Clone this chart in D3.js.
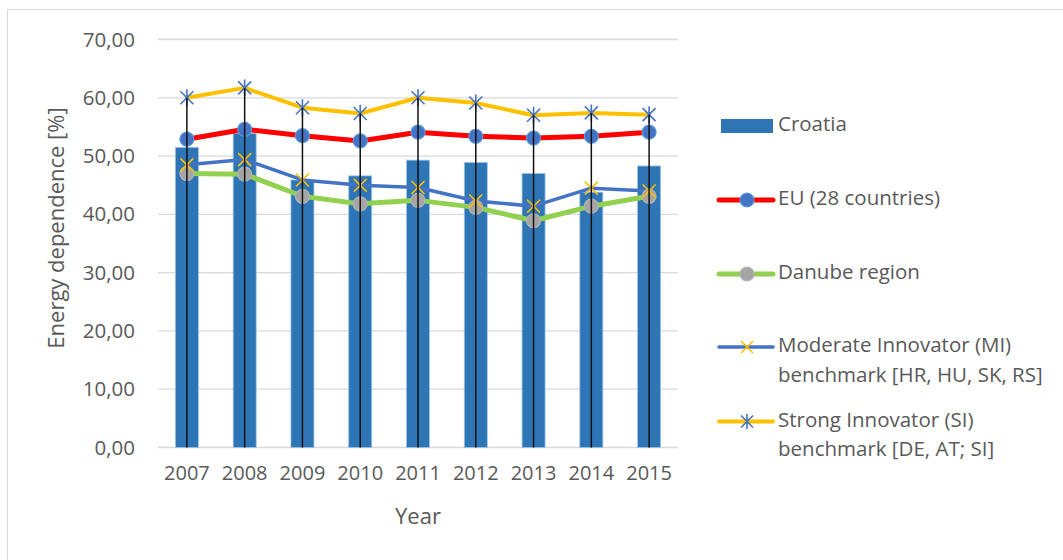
<!DOCTYPE html>
<html>
<head>
<meta charset="utf-8">
<script src="https://cdn.jsdelivr.net/npm/d3@7"></script>
<style>
  html, body { margin: 0; padding: 0; background: #fff; }
  svg { display: block; font-family: "Open Sans", sans-serif; }
</style>
</head>
<body>
<svg id="chart" width="1063" height="560"></svg>
<script>
// Energy dependence, 2007-2015
const years = ["2007", "2008", "2009", "2010", "2011", "2012", "2013", "2014", "2015"];
const croatia  = [51.5, 53.9, 45.9, 46.6, 49.3, 48.9, 47.0, 43.8, 48.3];
const eu28     = [52.9, 54.6, 53.5, 52.6, 54.1, 53.4, 53.1, 53.4, 54.1];
const danube   = [47.0, 46.9, 43.1, 41.8, 42.4, 41.2, 38.9, 41.4, 43.1];
const miBench  = [48.5, 49.4, 45.9, 45.0, 44.6, 42.3, 41.4, 44.5, 44.0];
const siBench  = [60.0, 61.7, 58.3, 57.3, 60.0, 59.1, 57.0, 57.4, 57.1];
const yTicks   = [0, 10, 20, 30, 40, 50, 60, 70];

const svg = d3.select("#chart");
const textColor = "#595959";
const fontFamily = "'Open Sans', sans-serif";

// chart frame
svg.append("path")
  .attr("d", "M7.5,560 L7.5,9.5 L1063,9.5")
  .attr("fill", "none").attr("stroke", "#d9d9d9").attr("stroke-width", 1);

const plot = { left: 158, right: 678, top: 39.5, bottom: 447.5 };

const x = d3.scaleBand().domain(years).range([plot.left, plot.right]).paddingInner(0.6).paddingOuter(0.3);
const xc = d => x(d) + x.bandwidth() / 2;
const y = d3.scaleLinear().domain([0, 70]).range([plot.bottom, plot.top]);

// gridlines
svg.append("g").selectAll("line").data(yTicks).join("line")
  .attr("x1", plot.left).attr("x2", plot.right)
  .attr("y1", d => y(d)).attr("y2", d => y(d))
  .attr("stroke", "#d9d9d9").attr("stroke-width", 1.3);

// y axis labels
const yAxis = d3.axisLeft(y).tickValues(yTicks).tickSize(0).tickPadding(0)
  .tickFormat(d => d3.format(".2f")(d).replace(".", ","));
svg.append("g").attr("transform", `translate(135,0)`).call(yAxis)
  .call(g => g.select(".domain").remove())
  .selectAll("text").attr("fill", textColor).attr("font-size", 20.5)
  .attr("font-family", fontFamily);

// x axis labels
const xAxis = d3.axisBottom(x).tickSize(0).tickPadding(0);
svg.append("g").attr("transform", `translate(0,465.5)`).call(xAxis)
  .call(g => g.select(".domain").remove())
  .selectAll("text").attr("fill", textColor).attr("font-size", 20)
  .attr("font-family", fontFamily);

// axis titles
svg.append("text").attr("x", 418).attr("y", 518).attr("text-anchor", "middle")
  .attr("dominant-baseline", "middle").attr("fill", textColor).attr("font-size", 22).text("Year");
svg.append("text").attr("transform", "translate(58,228) rotate(-90)").attr("text-anchor", "middle")
  .attr("dominant-baseline", "middle").attr("fill", textColor).attr("font-size", 22).text("Energy dependence [%]");

// Croatia bars
const barW = 23;
svg.append("g").selectAll("rect").data(years).join("rect")
  .attr("x", (d, i) => xc(d) - barW / 2)
  .attr("y", (d, i) => y(croatia[i]))
  .attr("width", barW)
  .attr("height", (d, i) => y(0) - y(croatia[i]))
  .attr("fill", "#2E75B6").attr("stroke", "#9DC3E6").attr("stroke-width", 0.8);

// series lines
const line = d3.line().x((d, i) => xc(years[i])).y(d => y(d));
function drawLine(data, color, width) {
  svg.append("path").datum(data).attr("d", line)
    .attr("fill", "none").attr("stroke", color).attr("stroke-width", width)
    .attr("stroke-linejoin", "round").attr("stroke-linecap", "round");
}
drawLine(siBench, "#FFC000", 4);
drawLine(eu28, "#FF0000", 5);
drawLine(miBench, "#4472C4", 3.5);
drawLine(danube, "#92D050", 5);

// markers
function circles(data, fill, stroke) {
  svg.append("g").selectAll("circle").data(data).join("circle")
    .attr("cx", (d, i) => xc(years[i])).attr("cy", d => y(d)).attr("r", 7)
    .attr("fill", fill).attr("stroke", stroke).attr("stroke-width", 1.2);
}
function crosses(data, color, s, star) {
  const g = svg.append("g").attr("stroke", color).attr("stroke-width", 1.6).attr("fill", "none");
  data.forEach((d, i) => {
    const cx = xc(years[i]), cy = y(d);
    let p = `M${cx - s},${cy - s}L${cx + s},${cy + s}M${cx - s},${cy + s}L${cx + s},${cy - s}`;
    if (star) p += `M${cx},${cy - s * 1.3}L${cx},${cy + s * 1.3}`;
    g.append("path").attr("d", p);
  });
}
circles(eu28, "#4472C4", "#5B9BD5");
circles(danube, "#A5A5A5", "#B4B4B4");
crosses(miBench, "#FFC000", 6.5, false);
crosses(siBench, "#4472C4", 6.5, true);

// drop lines from the highest series down to the axis
const tops = years.map((d, i) => Math.max(croatia[i], eu28[i], danube[i], miBench[i], siBench[i]));
svg.append("g").selectAll("line").data(tops).join("line")
  .attr("x1", (d, i) => xc(years[i])).attr("x2", (d, i) => xc(years[i]))
  .attr("y1", d => y(d)).attr("y2", y(0))
  .attr("stroke", "#111").attr("stroke-width", 1.5);

// legend
const lg = svg.append("g");
const lx0 = 721, lx1 = 773, tx = 778;
lg.append("rect").attr("x", lx0).attr("y", 119).attr("width", lx1 - lx0).attr("height", 14).attr("fill", "#2E75B6");
function legendLine(yy, color, w) {
  lg.append("line").attr("x1", lx0 - 2).attr("x2", lx1).attr("y1", yy).attr("y2", yy)
    .attr("stroke", color).attr("stroke-width", w).attr("stroke-linecap", "round");
}
legendLine(200, "#FF0000", 5);
lg.append("circle").attr("cx", 747).attr("cy", 200).attr("r", 7).attr("fill", "#4472C4").attr("stroke", "#5B9BD5").attr("stroke-width", 1.2);
legendLine(274, "#92D050", 5);
lg.append("circle").attr("cx", 747).attr("cy", 274).attr("r", 7).attr("fill", "#A5A5A5").attr("stroke", "#B4B4B4").attr("stroke-width", 1.2);
legendLine(347, "#4472C4", 3.5);
lg.append("path").attr("d", "M741,341L753,353M741,353L753,341").attr("stroke", "#FFC000").attr("stroke-width", 1.6);
legendLine(421.5, "#FFC000", 4);
lg.append("path").attr("d", "M741,415.5L753,427.5M741,427.5L753,415.5M747,414L747,429").attr("stroke", "#4472C4").attr("stroke-width", 1.6);

const labels = [
  { y: 126, t: "Croatia" },
  { y: 200, t: "EU (28 countries)" },
  { y: 274, t: "Danube region" },
  { y: 347, t: "Moderate Innovator (MI)" },
  { y: 377, t: "benchmark [HR, HU, SK, RS]" },
  { y: 421.5, t: "Strong Innovator (SI)" },
  { y: 451, t: "benchmark [DE, AT; SI]" }
];
lg.selectAll("text").data(labels).join("text")
  .attr("x", tx).attr("y", d => d.y).attr("dominant-baseline", "middle")
  .attr("fill", textColor).attr("font-size", 20.5).text(d => d.t);
</script>
</body>
</html>
